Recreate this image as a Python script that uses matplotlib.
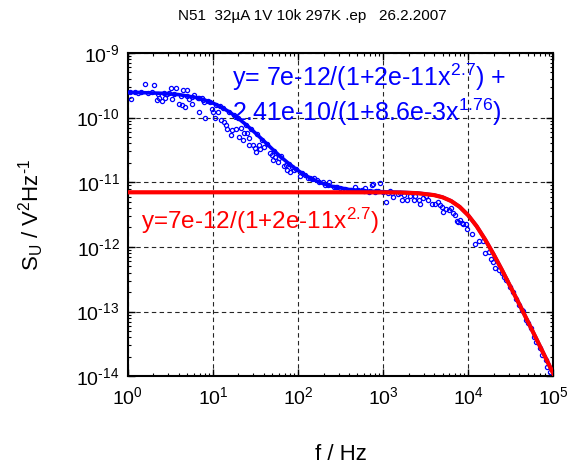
import numpy as np
import matplotlib
matplotlib.use("Agg")
import matplotlib.pyplot as plt
from matplotlib.ticker import LogLocator, NullFormatter, FuncFormatter

plt.rcParams['font.family'] = ['Liberation Sans', 'DejaVu Sans']
plt.rcParams['mathtext.fontset'] = 'custom'
plt.rcParams['mathtext.rm'] = 'Liberation Sans'
plt.rcParams['mathtext.it'] = 'Liberation Sans'
plt.rcParams['mathtext.default'] = 'regular'
plt.rcParams['axes.unicode_minus'] = False

# ---- data ----
# measured points: log10(f / Hz), log10(S_U / V^2Hz^-1)
meas_logf = [0.035, 0.20, 0.31, 0.34, 0.37, 0.40, 0.44, 0.49, 0.51, 0.57, 0.52, 0.60, 0.64,
             0.67, 0.65, 0.69, 0.72, 0.75, 0.78, 0.84, 0.87, 0.84, 0.90, 0.91, 0.99, 1.00,
             1.06, 1.03, 1.09, 1.13, 1.15, 1.17, 1.21, 1.23, 1.27, 1.33, 1.31, 1.37, 1.35,
             1.43, 1.47, 1.49, 1.40, 1.42, 1.54, 1.60, 1.55, 1.51, 1.67, 1.69, 1.73, 1.78,
             1.71, 1.76, 1.83, 1.86, 1.93, 1.95, 1.87, 1.91, 2.02, 2.08, 2.12, 2.16, 2.19,
             2.22, 2.30, 2.36, 2.32, 2.42, 2.46, 2.49, 2.57, 2.67, 2.71, 2.79, 2.96, 2.88,
             2.75, 2.87, 3.04, 3.12, 3.18, 3.22, 3.28, 3.32, 3.36, 3.38, 3.42, 3.44, 3.47,
             3.51, 3.53, 3.57, 3.61, 3.65, 3.67, 3.69, 3.71, 3.74, 3.77, 3.80, 3.82, 3.85,
             3.88, 3.91, 3.94, 3.98, 3.99, 4.04, 3.87, 3.93, 4.08, 4.13, 4.17, 4.20, 4.24,
             4.27, 4.29, 4.32, 4.36, 4.40, 4.42, 4.45, 4.49, 4.53, 4.56, 4.60, 4.63, 4.65,
             4.68, 4.70, 4.74, 4.77, 4.80, 4.84, 4.87, 4.91, 4.93, 4.96,
             0.02, 0.08, 0.12, 0.16, 0.24, 0.28, 0.36, 0.42, 0.46, 0.54, 0.62, 0.70, 0.76,
             0.82, 0.88, 0.94, 0.97, 1.04, 1.08, 1.12, 1.19, 1.25, 1.29, 1.39, 1.45, 1.52,
             1.58, 1.64, 1.72, 1.80, 1.90, 1.98, 2.05, 2.14, 2.25, 2.35, 2.45, 2.55, 2.62,
             2.85, 2.92, 3.00, 3.08, 2.78, 2.83, 2.90, 2.94, 3.06, 3.10, 3.20, 3.25]
meas_logS = [-9.71, -9.48, -9.50, -9.73, -9.69, -9.75, -9.70, -9.62, -9.54, -9.54, -9.71, -9.79, -9.80,
             -9.83, -9.57, -9.57, -9.71, -9.79, -9.65, -9.70, -9.70, -9.92, -9.76, -10.01, -9.86, -9.91,
             -9.91, -10.01, -10.04, -10.06, -10.11, -10.17, -10.27, -10.19, -10.17, -10.16, -10.30, -10.24, -10.35,
             -10.43, -10.42, -10.47, -10.24, -10.32, -10.42, -10.45, -10.48, -10.53, -10.54, -10.58, -10.61, -10.62,
             -10.66, -10.68, -10.75, -10.73, -10.76, -10.81, -10.81, -10.84, -10.91, -10.88, -10.94, -10.95, -10.94,
             -10.97, -10.99, -10.99, -11.04, -11.07, -11.07, -11.09, -11.12, -11.07, -11.12, -11.09, -11.01, -11.03,
             -11.12, -11.04, -11.30, -11.23, -11.18, -11.28, -11.28, -11.21, -11.28, -11.22, -11.28, -11.33, -11.25,
             -11.22, -11.28, -11.33, -11.33, -11.30, -11.35, -11.39, -11.46, -11.42, -11.43, -11.40, -11.48, -11.51,
             -11.61, -11.59, -11.64, -11.65, -11.73, -11.80, -11.60, -11.63, -11.95, -11.91, -11.91, -12.10, -12.08,
             -12.18, -12.23, -12.33, -12.36, -12.41, -12.47, -12.51, -12.62, -12.69, -12.80, -12.90, -12.98, -12.99,
             -13.13, -13.18, -13.26, -13.39, -13.47, -13.57, -13.67, -13.75, -13.86, -13.93,
             -9.60, -9.61, -9.62, -9.60, -9.62, -9.61, -9.63, -9.62, -9.64, -9.63, -9.66, -9.66, -9.68,
             -9.70, -9.72, -9.74, -9.76, -9.80, -9.82, -9.85, -9.91, -9.96, -10.00, -10.11, -10.18, -10.26,
             -10.34, -10.41, -10.51, -10.60, -10.71, -10.80, -10.86, -10.93, -11.00, -11.04, -11.08, -11.10, -11.12,
             -11.14, -11.13, -11.15, -11.14, -11.14, -11.15, -11.15, -11.14, -11.17, -11.16, -11.17, -11.19]

# fitted curves, read at these frequencies (log10 f)
fit_logf = [0.0, 0.2, 0.4, 0.6, 0.8, 0.9, 1.0, 1.1, 1.2, 1.3, 1.4, 1.5, 1.6, 1.7, 1.8, 1.9,
            2.0, 2.1, 2.2, 2.3, 2.4, 2.6, 2.8, 3.0, 3.2, 3.4, 3.6, 3.7, 3.8, 3.9, 4.0, 4.1,
            4.2, 4.3, 4.4, 4.6, 4.8, 5.0]
blue_fit = [2.46e-10, 2.43e-10, 2.38e-10, 2.27e-10, 2.05e-10, 1.88e-10, 1.68e-10, 1.45e-10,
            1.21e-10, 9.73e-11, 7.58e-11, 5.77e-11, 4.34e-11, 3.25e-11, 2.46e-11, 1.91e-11,
            1.52e-11, 1.25e-11, 1.07e-11, 9.49e-12, 8.66e-12, 7.74e-12, 7.33e-12, 7.13e-12,
            7.01e-12, 6.82e-12, 6.34e-12, 5.87e-12, 5.14e-12, 4.17e-12, 3.09e-12, 2.09e-12,
            1.30e-12, 7.66e-13, 4.34e-13, 1.31e-13, 3.83e-14, 1.11e-14]
red_fit = [7.0e-12, 7.0e-12, 7.0e-12, 7.0e-12, 7.0e-12, 7.0e-12, 7.0e-12, 7.0e-12,
           7.0e-12, 7.0e-12, 7.0e-12, 7.0e-12, 7.0e-12, 7.0e-12, 7.0e-12, 7.0e-12,
           7.0e-12, 7.0e-12, 7.0e-12, 7.0e-12, 7.0e-12, 7.0e-12, 6.99e-12, 6.98e-12,
           6.94e-12, 6.79e-12, 6.33e-12, 5.86e-12, 5.13e-12, 4.17e-12, 3.09e-12, 2.09e-12,
           1.30e-12, 7.65e-13, 4.33e-13, 1.31e-13, 3.82e-14, 1.10e-14]

title_text = "N51  32\u00b5A 1V 10k 297K .ep   26.2.2007"
blue_eq1 = r"y= 7e-12/(1+2e-11x$^{2.7}$) +"
blue_eq2 = r"2.41e-10/(1+8.6e-3x$^{1.76}$)"
red_eq = r"y=7e-12/(1+2e-11x$^{2.7}$)"

BLUE = '#0000ff'
RED = '#ff0000'
HY = '\u2010'

fig = plt.figure(figsize=(5.68, 4.65), dpi=100)
ax = fig.add_axes([0.225, 0.191, 0.749, 0.695])

f_meas = 10.0 ** np.array(meas_logf)
s_meas = 10.0 ** np.array(meas_logS)
f_fit = 10.0 ** np.array(fit_logf)

ax.plot(f_meas, s_meas, 'o', ms=3.0, mfc='none', mec=BLUE, mew=0.9, zorder=3)
ax.plot(f_fit, blue_fit, '-', color=BLUE, lw=2.6, zorder=4)
ax.plot(f_fit, red_fit, '-', color=RED, lw=3.0, zorder=5)

ax.set_xscale('log')
ax.set_yscale('log')
ax.set_xlim(1, 1e5)
ax.set_ylim(1e-14, 1e-9)


def pow_fmt(v, pos):
    e = int(round(np.log10(v)))
    s = str(e).replace('-', HY)
    return r'$10^{%s}$' % s


ax.xaxis.set_major_locator(LogLocator(base=10, numticks=10))
ax.yaxis.set_major_locator(LogLocator(base=10, numticks=10))
ax.xaxis.set_major_formatter(FuncFormatter(pow_fmt))
ax.yaxis.set_major_formatter(FuncFormatter(pow_fmt))
ax.xaxis.set_minor_locator(LogLocator(base=10, subs=np.arange(2, 10), numticks=20))
ax.yaxis.set_minor_locator(LogLocator(base=10, subs=np.arange(2, 10), numticks=20))
ax.xaxis.set_minor_formatter(NullFormatter())
ax.yaxis.set_minor_formatter(NullFormatter())

ax.tick_params(which='both', direction='in', top=True, right=True, color='black')
ax.tick_params(which='major', length=5, width=1.0, labelsize=14, pad=7)
ax.tick_params(which='minor', length=2.5, width=0.8)
ax.tick_params(axis='y', which='major', pad=6)

for sp in ax.spines.values():
    sp.set_linewidth(1.5)

ax.grid(True, which='major', color='black', linestyle=(0, (4, 3)), linewidth=0.8, alpha=0.85)
for gl in ax.get_xgridlines() + ax.get_ygridlines():
    gl.set_zorder(1)

ax.set_xlabel('f / Hz', fontsize=16, labelpad=26)
ax.set_ylabel(r'S$_U$ / V$^2$Hz$^{%s1}$' % HY, fontsize=16, labelpad=22)

fig.text(312 / 568, 1 - 16 / 465, title_text, fontsize=11, ha='center', va='center')

ax.text(0.245, 0.925, blue_eq1, transform=ax.transAxes, color=BLUE, fontsize=18,
        ha='left', va='center')
ax.text(0.245, 0.815, blue_eq2, transform=ax.transAxes, color=BLUE, fontsize=18,
        ha='left', va='center')
ax.text(0.03, 0.48, red_eq, transform=ax.transAxes, color=RED, fontsize=17.5,
        ha='left', va='center')

fig.savefig('out.png', dpi=100)
